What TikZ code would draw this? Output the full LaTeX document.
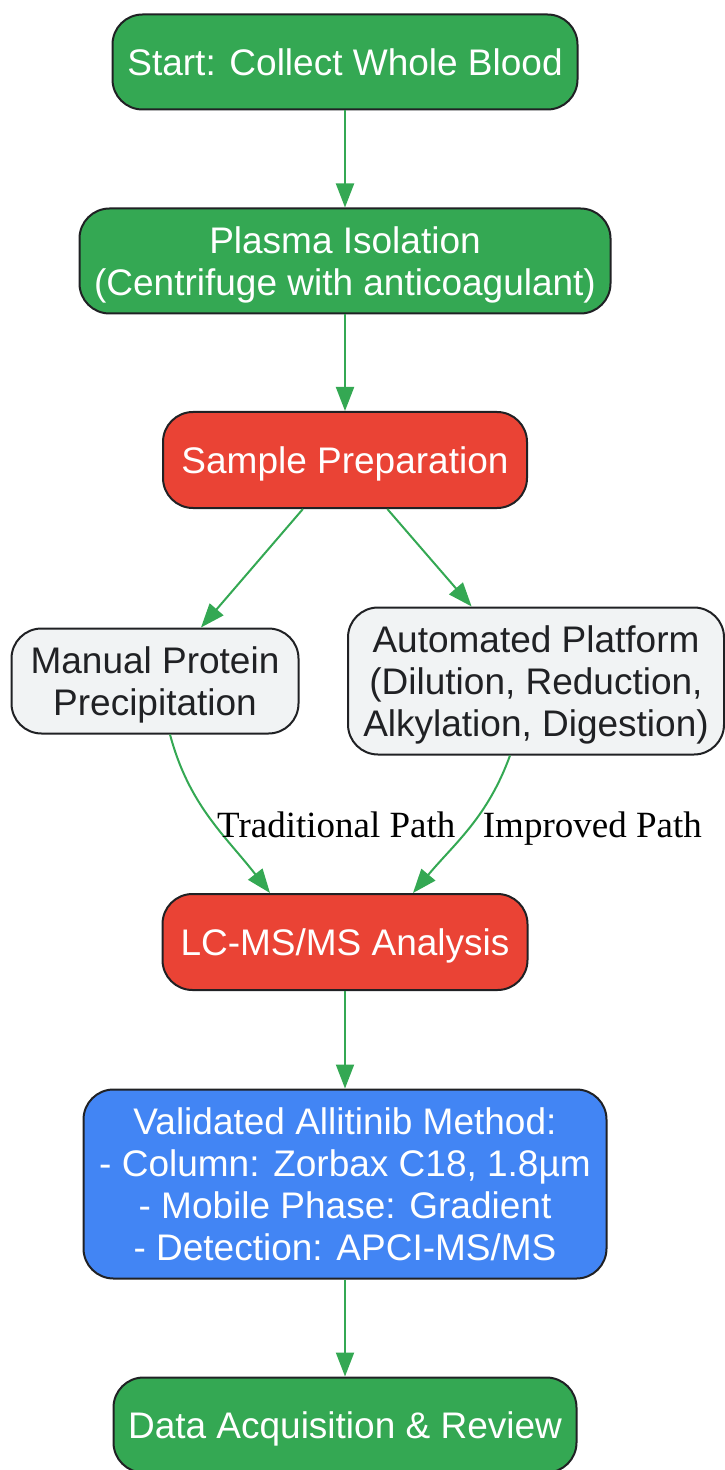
\documentclass[tikz,border=0pt]{standalone}
\usepackage{fontspec}
\setmainfont{Liberation Sans}
\newfontfamily\pathfont{Liberation Serif}
\usetikzlibrary{positioning,arrows.meta}
\definecolor{stepgreen}{HTML}{34A853}
\definecolor{stepred}{HTML}{EA4335}
\definecolor{stepblue}{HTML}{4285F4}
\definecolor{stepgray}{HTML}{F1F3F4}
\definecolor{edgegray}{HTML}{202124}

\begin{document}
\begin{tikzpicture}[node distance=2cm,on grid,
    box/.style={draw=edgegray,line width=1pt,rounded corners=15pt,align=center,
        text=white,inner sep=2pt,text depth=0pt,font=\fontsize{18.5}{21}\selectfont},
    choice/.style={box,fill=stepgray,text=edgegray},
    flow/.style={every edge/.style={draw,color=stepgreen,line width=1pt,-{Triangle[length=12pt,width=9pt]}}},
    pathlabel/.style={font=\pathfont\fontsize{18.5}{21}\selectfont,text=black,inner sep=3pt}]
    \useasboundingbox (0,0) rectangle (362pt,-735pt);
    % \node[style, size] (identifier) [placement] {display};
    \node[box,fill=stepgreen,minimum width=232.5pt,minimum height=47.5pt] (start) at (172.5pt,-31pt) {Start: Collect Whole Blood};
    \node[box,fill=stepgreen,minimum width=265.5pt,minimum height=52.5pt] (plasma) [below=99.5pt of start] {Plasma Isolation\\(Centrifuge with anticoagulant)};
    \node[box,fill=stepred,minimum width=182pt,minimum height=48pt] (sample) [below=99.5pt of plasma] {Sample Preparation};
    \node[choice,minimum width=143.5pt,minimum height=52.5pt] (manual) [below left=110.5pt and 95pt of sample] {Manual Protein\\Precipitation};
    \node[choice,minimum width=188pt,minimum height=73.5pt] (auto) [below right=110.5pt and 95.5pt of sample] {Automated Platform\\(Dilution, Reduction,\\Alkylation, Digestion)};
    \node[box,fill=stepred,minimum width=182.5pt,minimum height=48pt] (lcms) [below=241pt of sample] {LC-MS/MS Analysis};
    \node[box,fill=stepblue,minimum width=261.5pt,minimum height=94.5pt] (valid) [below=121pt of lcms] {Validated Allitinib Method:\\- Column: Zorbax C18, 1.8µm\\- Mobile Phase: Gradient\\- Detection: APCI-MS/MS};
    \node[box,fill=stepgreen,minimum width=231.5pt,minimum height=47.5pt] (data) [below=120.5pt of valid] {Data Acquisition \& Review};

    % (start identifier) edge [options?] node {label} (target identifier)
    \path[flow]
    (start) edge (plasma)
    (plasma) edge (sample)
    (sample) edge (manual)
             edge (auto)
    ([xshift=7.5pt]manual.south) edge[out=-75,in=128] node[pathlabel,right,yshift=-3pt] {Traditional Path} ([xshift=-37.5pt]lcms.north)
    ([xshift=-13pt]auto.south) edge[out=-110,in=50] node[pathlabel,right,xshift=3.5pt] {Improved Path} ([xshift=34pt]lcms.north)
    (lcms) edge (valid)
    (valid) edge (data);
\end{tikzpicture}
\end{document}
